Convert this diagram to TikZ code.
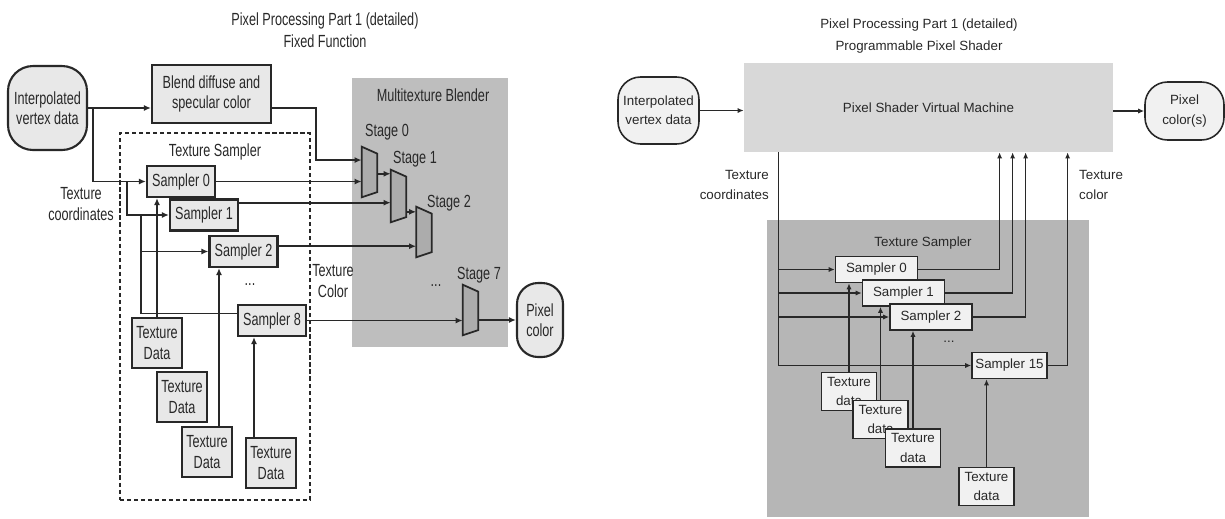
\documentclass[tikz,border=0pt]{standalone}
\usepackage{fontspec}
\setmainfont{Liberation Sans}
\newfontfamily\narrowfont[FakeStretch=0.72]{Liberation Sans}
\usetikzlibrary{positioning,arrows.meta}
\definecolor{boxgray}{RGB}{232,232,232}
\definecolor{blendgray}{RGB}{190,190,190}
\definecolor{stagegray}{RGB}{172,172,172}
\definecolor{vmgray}{RGB}{216,216,216}
\definecolor{samplergray}{RGB}{182,182,182}
\definecolor{inkgray}{RGB}{40,40,40}

\begin{document}
\begin{tikzpicture}[
      x=0.02cm, y=-0.02cm,
      lft/.style={font=\narrowfont\fontsize{10}{11.5}\selectfont, text=inkgray, align=center},
      rgt/.style={font=\fontsize{7.6}{11}\selectfont, text=inkgray, align=center},
      lbox/.style={lft, draw=inkgray, line width=1.2pt, fill=boxgray, inner sep=1pt},
      lsmp/.style={lbox, minimum width=1.36cm, minimum height=0.62cm},
      ltex/.style={lbox, minimum width=1.0cm, minimum height=1.0cm},
      lterm/.style={lbox, rounded corners=0.5cm},
      stagebox/.style={minimum width=0.3cm, minimum height=1.0cm, inner sep=0pt},
      larr/.style={draw=inkgray, line width=1pt, -{Latex[length=4pt,width=3.4pt]}},
      lline/.style={draw=inkgray, line width=1pt},
      rbox/.style={rgt, draw=inkgray, line width=0.9pt, fill=boxgray!60, inner sep=1pt},
      rsmp/.style={rbox, minimum width=1.64cm, minimum height=0.52cm},
      rtex/.style={rbox, minimum width=1.1cm, minimum height=0.76cm},
      rterm/.style={rbox, rounded corners=0.45cm},
      rarr/.style={draw=inkgray, line width=0.8pt, -{Latex[length=3.5pt,width=3pt]}}
    ]
    \useasboundingbox (0,0) rectangle (1225,518);

    % ---- left: fixed function ----
    \node[lft] (ltitle) at (325,30) {Pixel Processing Part 1 (detailed)\\[1pt]Fixed Function};
    \node[fill=blendgray, minimum width=3.12cm, minimum height=5.38cm] (blender) at (430,212.5) {};
    \node[lft] (blender-lbl) at (433,95) {Multitexture Blender};
    \node[draw=inkgray, line width=1pt, dash pattern=on 2.4pt off 1.6pt,
          minimum width=3.8cm, minimum height=7.34cm] (lsampler) at (215,316.5) {};
    \node[lft] (lsampler-lbl) at (215,152) {Texture Sampler};

    \node[lterm, minimum width=1.58cm, minimum height=1.68cm] (linterp) at (47.5,108) {Interpolated\\vertex data};
    \node[lbox, minimum width=2.38cm, minimum height=1.16cm] (blend) at (211.5,94) {Blend diffuse and\\specular color};
    \node[lsmp] (smp0) at (181,181.5) {Sampler 0};
    \node[lsmp] (smp1) at (204,215) {Sampler 1};
    \node[lsmp] (smp2) at (243.5,251.5) {Sampler 2};
    \node[lsmp] (smp8) at (272,320.5) {Sampler 8};
    \node[lft] (ldots) at (250,285) {...};
    \node[ltex] (ltd1) at (157,343) {Texture\\Data};
    \node[ltex] (ltd2) at (182,397) {Texture\\Data};
    \node[ltex] (ltd3) at (207,452) {Texture\\Data};
    \node[ltex] (ltd4) at (271,463) {Texture\\Data};
    \node[lterm, minimum width=0.92cm, minimum height=1.48cm, rounded corners=0.42cm] (lpix) at (540,320) {Pixel\\color};
    \node[lft] (tc-lbl) at (81,204) {Texture\\coordinates};
    \node[lft] (tcol-lbl) at (333,281) {Texture\\Color};

    % stages: trapezoids drawn on invisible boxes
    \node[stagebox] (st0) at (369.5,172) {};
    \node[stagebox, minimum height=1.04cm] (st1) at (398.5,196) {};
    \node[stagebox] (st2) at (424,232) {};
    \node[stagebox] (st7) at (470.5,310) {};
    \foreach \s in {st0,st1,st2,st7}
      \draw[draw=inkgray, line width=1pt, fill=stagegray]
        (\s.north west) -- ([yshift=-4pt]\s.north east) -- ([yshift=3pt]\s.south east) -- (\s.south west) -- cycle;
    \node[lft] (st0-lbl) at (387,132) {Stage 0};
    \node[lft] (st1-lbl) at (415,159) {Stage 1};
    \node[lft] (st2-lbl) at (449,203) {Stage 2};
    \node[lft] (st7-lbl) at (479,275) {Stage 7};
    \node[lft] (bdots) at (436,286) {...};

    % coordinates in
    \coordinate (tc0) at ([xshift=0.1cm]linterp.east);
    \coordinate (tc1) at ([xshift=-0.38cm]smp0.west);
    \coordinate (tc2) at ([xshift=-0.56cm]smp1.west);
    \draw[larr] (linterp.east) -- (linterp.east -| blend.west);
    \draw[larr] (linterp.east -| blend.east) -- ++(44,0) |- ([yshift=6.8pt]st0.west);
    \draw[larr] (tc0) |- (smp0.west);
    \draw[larr] (tc1) |- (smp1.west);
    \draw[larr] (tc2) |- (smp2.west);
    \draw[lline] (tc2) |- ([yshift=4pt]smp8.west);

    % texture data in
    \draw[larr] (ltd1.north) -- (ltd1.north |- smp0.south);
    \draw[larr] ([xshift=0.24cm]ltd3.north) -- ([xshift=0.24cm]ltd3.north |- smp2.south);
    \draw[larr] ([xshift=-0.34cm]ltd4.north) -- ([xshift=-0.34cm]ltd4.north |- smp8.south);

    % texture color out
    \draw[larr] (smp0.east) -- (smp0.east -| st0.west);
    \draw[larr] ([yshift=7pt]smp1.east) -- ([yshift=7pt]smp1.east -| st1.west);
    \draw[larr] ([yshift=3pt]smp2.east) -- ([yshift=3pt]smp2.east -| st2.west);
    \draw[larr] (smp8.east) -- (smp8.east -| st7.west);
    \draw[larr] ([yshift=-1pt]st0.east) -- ([yshift=-1pt]st0.east -| st1.west);
    \draw[larr] ([yshift=-9pt]st1.east) -- ([yshift=-9pt]st1.east -| st2.west);
    \draw[larr] (lpix.west -| st7.east) -- (lpix.west);

    % ---- right: programmable pixel shader ----
    \node[rgt] (rtitle) at (919,36) {Pixel Processing Part 1 (detailed)\\[1.5pt]Programmable Pixel Shader};
    \node[rgt, fill=vmgray, minimum width=7.38cm, minimum height=1.78cm] (psvm) at (928.5,107.5) {Pixel Shader Virtual Machine};
    \node[rterm, minimum width=1.62cm, minimum height=1.34cm] (rinterp) at (658.5,110.5) {Interpolated\\vertex data};
    \node[rterm, minimum width=1.58cm, minimum height=1.16cm] (rpix) at (1184.5,111) {Pixel\\color(s)};
    \node[fill=samplergray, minimum width=6.44cm, minimum height=5.94cm] (rsampler) at (928,368.5) {};
    \node[rgt] (rsampler-lbl) at (923,243) {Texture Sampler};
    \node[rsmp] (rsmp0) at (876.5,269.5) {Sampler 0};
    \node[rsmp] (rsmp1) at (903.5,293) {Sampler 1};
    \node[rsmp] (rsmp2) at (931,317) {Sampler 2};
    \node[rsmp, minimum width=1.5cm] (rsmp15) at (1009.5,365.5) {Sampler 15};
    \node[rgt] (rdots) at (949,342) {...};
    \node[rtex] (rtd1) at (849,391.5) {Texture\\data};
    \node[rtex] (rtd2) at (880.5,419.5) {Texture\\data};
    \node[rtex] (rtd3) at (913,448) {Texture\\data};
    \node[rtex] (rtd4) at (986.5,486.5) {Texture\\data};
    \node[rgt, align=right, anchor=east] (rtc-lbl) at (775,185) {Texture\\coordinates};
    \node[rgt, align=left, anchor=west] (rtcol-lbl) at (1073,185) {Texture\\color};

    \draw[rarr] (rinterp.east) -- (rinterp.east -| psvm.west);
    \draw[rarr] (rpix.west -| psvm.east) -- (rpix.west);

    % coordinates down, samplers
    \coordinate (rtc) at ([xshift=0.7cm]psvm.south west);
    \draw[rarr] (rtc) |- (rsmp15.west);
    \draw[rarr] (rtc |- rsmp0.west) -- (rsmp0.west);
    \draw[rarr] (rtc |- rsmp1.west) -- (rsmp1.west);
    \draw[rarr] (rtc |- rsmp2.west) -- (rsmp2.west);

    % texture color up
    \draw[rarr] (rsmp0.east) -| ([xshift=5.12cm]psvm.south west);
    \draw[rarr] (rsmp1.east) -| ([xshift=5.38cm]psvm.south west);
    \draw[rarr] (rsmp2.east) -| ([xshift=5.64cm]psvm.south west);
    \draw[rarr] (rsmp15.east) -| ([xshift=6.48cm]psvm.south west);

    % texture data in
    \draw[rarr] (rtd1.north) -- (rtd1.north |- rsmp0.south);
    \draw[rarr] (rtd2.north) -- (rtd2.north |- rsmp1.south);
    \draw[rarr] (rtd3.north) -- (rtd3.north |- rsmp2.south);
    \draw[rarr] (rtd4.north) -- (rtd4.north |- rsmp15.south);
  \end{tikzpicture}
\end{document}
